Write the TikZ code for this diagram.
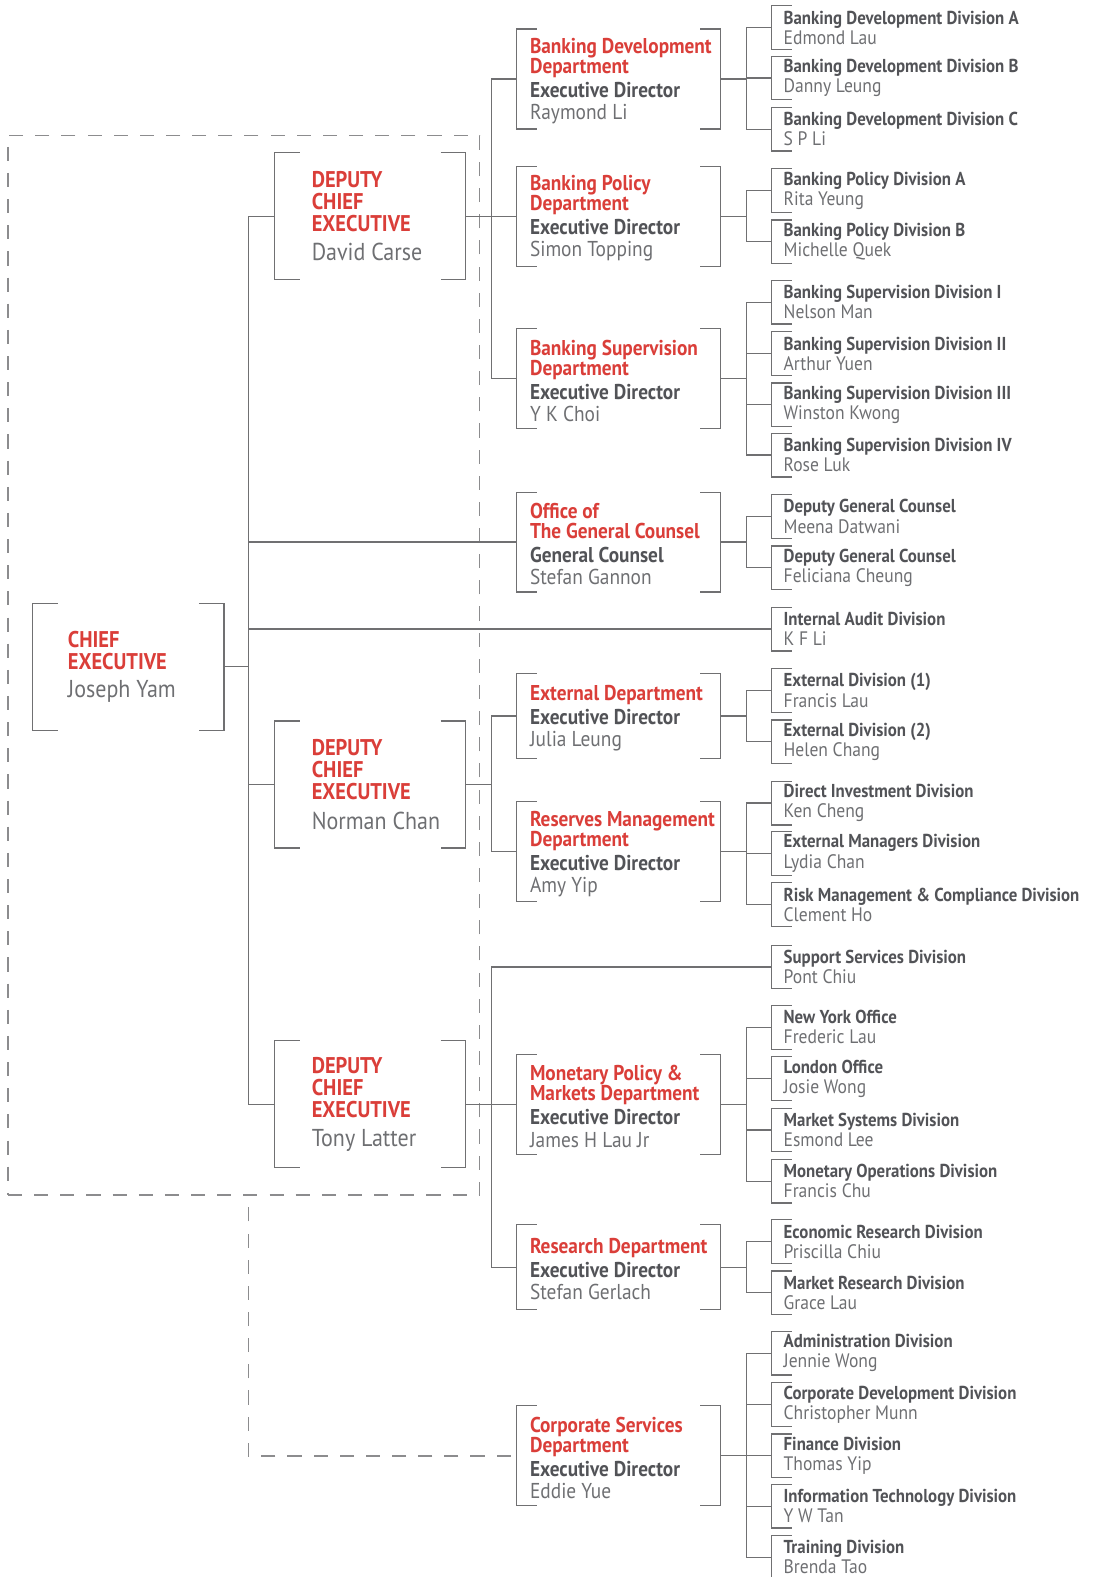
\documentclass[tikz,border=0pt]{standalone}
\usepackage{fontspec}
\setmainfont{PT Sans}[FakeStretch=0.9]
\usetikzlibrary{positioning}
\definecolor{hkred}{RGB}{218,62,57}
\definecolor{inkgray}{RGB}{82,83,87}
\definecolor{namegray}{RGB}{110,111,114}
\definecolor{linegray}{RGB}{112,112,114}
\definecolor{dashgray}{RGB}{140,140,142}
\newcommand{\redline}[1]{{\color{hkred}\bfseries #1}}
\newcommand{\boldline}[1]{{\color{inkgray}\bfseries #1}}
\newcommand{\nameline}[1]{{\color{namegray}\fontsize{\namept}{\namept}\selectfont #1}}
% square brackets round a box
\newcommand{\brackets}[2]{%
  \draw[conn] ([xshift=#2]#1.north west) -| (#1.south west) -- ++(#2,0);
  \draw[conn] ([xshift=-#2]#1.north east) -| (#1.south east) -- ++(-#2,0);
}
\newcommand{\leftbracket}[1]{%
  \draw[conn] ([xshift=20]#1.north west) -| (#1.south west) -- ++(20,0);
}
\tikzset{
  conn/.style={draw=linegray, line width=1.2pt},
  grouprule/.style={draw=dashgray, line width=1.4pt, dash pattern=on 14pt off 12pt},
  topbox/.style={minimum width=190pt, minimum height=126pt},
  toptext/.style={anchor=west, align=left,
    font={\def\namept{24.3}\fontsize{22.6}{22}\selectfont}},
  deptbox/.style={minimum width=202pt, minimum height=#1},
  depttext/.style={anchor=west, align=left, yshift=-2pt,
    font={\def\namept{21.4}\fontsize{21.3}{20}\selectfont}},
  divbox/.style={anchor=west, minimum height=43pt, inner xsep=12pt, align=left,
    font={\def\namept{19.4}\fontsize{18.6}{20}\selectfont}},
}
\begin{document}
\begin{tikzpicture}[x=1pt, y=-1pt, every node/.style={inner sep=0pt}]
  \useasboundingbox (0,0) rectangle (1089,1568);

  % deputies group
  \node[grouprule, draw, minimum width=469pt, minimum height=1053pt] (deputies) at (242.5,661.5) {};

  % chief executive and deputies
  \node[topbox] (ce) at (127.5,663) {};
  \node[toptext, right=35pt of ce.west] (ce-t) {\redline{CHIEF}\\\redline{EXECUTIVE}\\[6pt]\nameline{Joseph Yam}};
  \node[topbox] (dce1) at (368,215) {};
  \node[toptext, right=37pt of dce1.west] (dce1-t) {\redline{DEPUTY}\\\redline{CHIEF}\\\redline{EXECUTIVE}\\[7pt]\nameline{David Carse}};
  \node[topbox] (dce2) at (368,780) {};
  \node[toptext, right=37pt of dce2.west] (dce2-t) {\redline{DEPUTY}\\\redline{CHIEF}\\\redline{EXECUTIVE}\\[7pt]\nameline{Norman Chan}};
  \node[topbox] (dce3) at (368,1098) {};
  \node[toptext, right=37pt of dce3.west] (dce3-t) {\redline{DEPUTY}\\\redline{CHIEF}\\\redline{EXECUTIVE}\\[7pt]\nameline{Tony Latter}};

  % departments
  \node[deptbox=99pt] (bd) at (615,78.5) {};
  \node[depttext, right=13pt of bd.west] (bd-t) {\redline{Banking Development}\\\redline{Department}\\[4pt]\boldline{Executive Director}\\[2pt]\nameline{Raymond Li}};
  \node[deptbox=99pt] (bp) at (615,215) {};
  \node[depttext, right=13pt of bp.west] (bp-t) {\redline{Banking Policy}\\\redline{Department}\\[4pt]\boldline{Executive Director}\\[2pt]\nameline{Simon Topping}};
  \node[deptbox=99pt] (bs) at (615,376.5) {};
  \node[depttext, right=13pt of bs.west] (bs-t) {\redline{Banking Supervision}\\\redline{Department}\\[4pt]\boldline{Executive Director}\\[2pt]\nameline{Y K Choi}};
  \node[deptbox=99pt] (gc) at (615,539) {};
  \node[depttext, right=13pt of gc.west] (gc-t) {\redline{Office of}\\\redline{The General Counsel}\\[4pt]\boldline{General Counsel}\\[2pt]\nameline{Stefan Gannon}};
  \node[deptbox=84pt] (ext) at (615,712) {};
  \node[depttext, right=13pt of ext.west] (ext-t) {\redline{External Department}\\[4pt]\boldline{Executive Director}\\[2pt]\nameline{Julia Leung}};
  \node[deptbox=99pt] (res) at (615,847) {};
  \node[depttext, right=13pt of res.west] (res-t) {\redline{Reserves Management}\\\redline{Department}\\[4pt]\boldline{Executive Director}\\[2pt]\nameline{Amy Yip}};
  \node[deptbox=99pt] (mpm) at (615,1098) {};
  \node[depttext, right=13pt of mpm.west] (mpm-t) {\redline{Monetary Policy \&}\\\redline{Markets Department}\\[4pt]\boldline{Executive Director}\\[2pt]\nameline{James H Lau Jr}};
  \node[deptbox=84pt] (rsd) at (615,1260) {};
  \node[depttext, right=13pt of rsd.west] (rsd-t) {\redline{Research Department}\\[4pt]\boldline{Executive Director}\\[2pt]\nameline{Stefan Gerlach}};
  \node[deptbox=99pt] (csd) at (615,1447.5) {};
  \node[depttext, right=13pt of csd.west] (csd-t) {\redline{Corporate Services}\\\redline{Department}\\[4pt]\boldline{Executive Director}\\[2pt]\nameline{Eddie Yue}};

  % divisions
  \foreach \n/\y/\t/\p in {
      bd1/27.5/Banking Development Division A/Edmond Lau,
      bd2/77.5/Banking Development Division B/Danny Leung,
      bd3/128.5/Banking Development Division C/S P Li,
      bp1/189.5/Banking Policy Division A/Rita Yeung,
      bp2/240.5/Banking Policy Division B/Michelle Quek,
      bs1/300.5/Banking Supervision Division I/Nelson Man,
      bs2/351.5/Banking Supervision Division II/Arthur Yuen,
      bs3/402.5/Banking Supervision Division III/Winston Kwong,
      bs4/452.5/Banking Supervision Division IV/Rose Luk,
      gc1/513.5/Deputy General Counsel/Meena Datwani,
      gc2/564.5/Deputy General Counsel/Feliciana Cheung,
      ia/625.5/Internal Audit Division/K F Li,
      ex1/686.5/External Division (1)/Francis Lau,
      ex2/737.5/External Division (2)/Helen Chang,
      rm1/798.5/Direct Investment Division/Ken Cheng,
      rm2/848.5/External Managers Division/Lydia Chan,
      rm3/899.5/Risk Management \& Compliance Division/Clement Ho,
      sup/961.5/Support Services Division/Pont Chiu,
      mp1/1021.5/New York Office/Frederic Lau,
      mp2/1072.5/London Office/Josie Wong,
      mp3/1123.5/Market Systems Division/Esmond Lee,
      mp4/1174.5/Monetary Operations Division/Francis Chu,
      rs1/1234.5/Economic Research Division/Priscilla Chiu,
      rs2/1285.5/Market Research Division/Grace Lau,
      cs1/1345.5/Administration Division/Jennie Wong,
      cs2/1396.5/Corporate Development Division/Christopher Munn,
      cs3/1447.5/Finance Division/Thomas Yip,
      cs4/1497.5/Information Technology Division/Y W Tan,
      cs5/1548.5/Training Division/Brenda Tao}
  {
    \node[divbox] (\n) at (767,\y) {\boldline{\t}\\\nameline{\p}};
    \leftbracket{\n}
  }

  % brackets
  \brackets{ce}{25}
  \foreach \b in {dce1,dce2,dce3} {\brackets{\b}{25}}
  \foreach \b in {bd,bp,bs,gc,ext,res,mpm,rsd,csd} {\brackets{\b}{20}}

  % chief executive to deputies
  \draw[conn] (dce1.west) -- ++(-26,0) coordinate (trunk) |- (dce3.west);
  \draw[conn] (ce.east) -- (ce.east -| trunk);
  \draw[conn] (dce2.west) -- (dce2.west -| trunk);
  \draw[conn] (gc.west) -- (gc.west -| trunk);
  \draw[conn] (ia.west) -- (ia.west -| trunk);

  % deputies to departments
  \draw[conn] (bd.west) -- ++(-25,0) |- (bs.west);
  \draw[conn] (dce1.east) -- (bp.west);
  \draw[conn] (ext.west) -- ++(-25,0) coordinate (spine2) |- (res.west);
  \draw[conn] (dce2.east) -- (dce2.east -| spine2);
  \draw[conn] (rsd.west) -- ++(-25,0) |- (sup.west);
  \draw[conn] (dce3.east) -- (mpm.west);

  % departments to divisions
  \foreach \d/\a/\z in {bd/bd1/bd3, bp/bp1/bp2, bs/bs1/bs4, gc/gc1/gc2, ext/ex1/ex2,
      res/rm1/rm3, mpm/mp1/mp4, rsd/rs1/rs2, csd/cs1/cs5} {
    \draw[conn] (\d.east) -- ++(26,0);
    \draw[conn] (\a.west) -- ++(-25,0) |- (\z.west);
  }
  \foreach \m in {bd2,bs2,bs3,rm2,mp2,mp3,cs2,cs3,cs4}
    \draw[conn] (\m.west) -- ++(-25,0);

  % dashed link to corporate services
  \draw[grouprule] ([xshift=-6]csd.west) -| (deputies.south -| trunk);
\end{tikzpicture}
\end{document}
